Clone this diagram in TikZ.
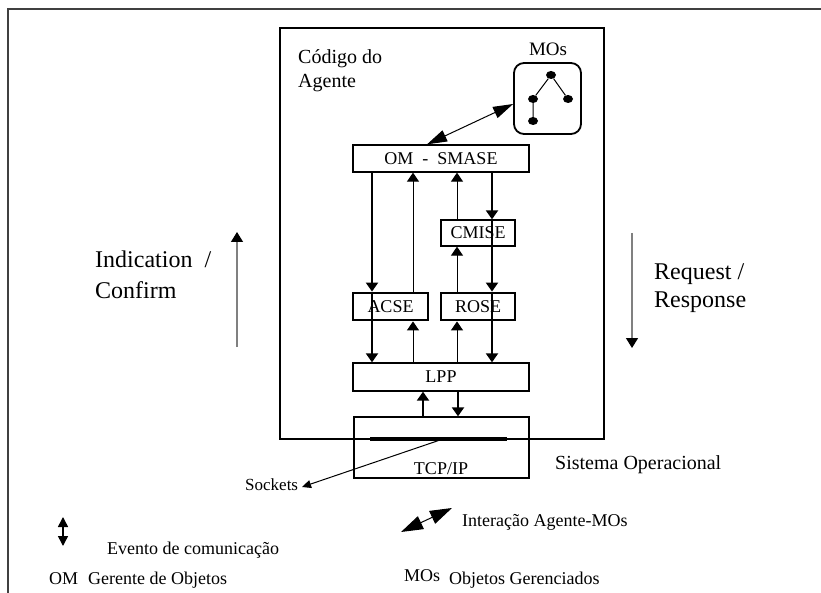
\documentclass[tikz,border=0pt]{standalone}
\usepackage{fontspec}
\setmainfont{Liberation Serif}
\usetikzlibrary{arrows.meta,shapes.geometric}
\newcommand\setfs[1]{\fontsize{#1}{#1}\selectfont}
\begin{document}
\begin{tikzpicture}[x=1pt,y=-1pt,
  box/.style={draw, line width=1.3pt, inner sep=0pt, font=\setfs{18pt}},
  boldbox/.style={box, line width=2.8pt},
  txt/.style={inner sep=0pt, anchor=base west},
  thn/.style={line width=1pt},
  thk/.style={line width=2pt},
  tip/.style={-{Triangle[width=12pt,length=9pt]}},
  dot/.style={ellipse, fill, inner sep=0pt, minimum width=10pt, minimum height=8pt},
  bigtip/.style={{Triangle[width=12pt,length=20pt]}-{Triangle[width=12pt,length=20pt]}},
  hint/.style={draw=black!50, line width=1.3pt, -{Triangle[width=12pt,length=10pt,color=black]}}]
\useasboundingbox (0,0) rectangle (821,593);

% page frame
\draw[black!75, line width=1.5pt] (821,9) -- (8,9) -- (8,593);

% agent code area and its modules
\node[draw, line width=1.5pt, minimum width=324pt, minimum height=411pt] (agent) at (442,233.5) {};
\node[txt, anchor=north west, align=left, font=\fontsize{20pt}{24pt}\selectfont] (agentlbl) at (298,49) {Código do\\Agente};

\node[draw, line width=1.8pt, rounded corners=10pt, minimum width=67pt, minimum height=71pt] (mos) at (547.5,98.5) {};
\node[txt, anchor=base, font=\setfs{19pt}] (moslbl) at (548,56) {MOs};
\node[dot] (t1) at (551,75) {};
\node[dot] (t2) at (533,99) {};
\node[dot] (t3) at (568,99) {};
\node[dot] (t4) at (533,121) {};
\draw[thn] (t1) -- (t2) (t1) -- (t3) (t2) -- (t4);

\node[box, minimum width=176pt, minimum height=27pt] (om) at (441,158.5) {OM\ \ -\ \ SMASE};
\node[box, minimum width=74pt, minimum height=26pt] (cmise) at (478,233) {CMISE};
\node[boldbox, minimum width=75pt, minimum height=27pt] (acse) at (390.5,306.5) {ACSE};
\node[boldbox, minimum width=74pt, minimum height=27pt] (rose) at (478,306.5) {ROSE};
\node[box, minimum width=176pt, minimum height=28pt] (lpp) at (441,377) {LPP};
\node[box, minimum width=175pt, minimum height=61pt] (tcp) at (441.5,447.5) {};
\node[txt, anchor=base, font=\setfs{18pt}] (tcplbl) at (441,474) {TCP/IP};

% lanes of the vertical connectors
\coordinate (lA) at (372,0);
\coordinate (lB) at (413,0);
\coordinate (lC) at (457,0);
\coordinate (lD) at (492,0);
\coordinate (lE) at (423,0);
\coordinate (lF) at (458,0);

% requests going down
\draw[thk,tip] (om.south -| lA) -- (acse.north -| lA);
\draw[thk] (acse.north -| lA) -- (acse.south -| lA);
\draw[thk,tip] (acse.south -| lA) -- (lpp.north -| lA);
\draw[thk,tip] (om.south -| lD) -- (cmise.north -| lD);
\draw[thk] (cmise.north -| lD) -- (cmise.south -| lD);
\draw[thk,tip] (cmise.south -| lD) -- (rose.north -| lD);
\draw[thk] (rose.north -| lD) -- (rose.south -| lD);
\draw[thk,tip] (rose.south -| lD) -- (lpp.north -| lD);

% indications going up
\draw[thn,tip] (lpp.north -| lB) -- (acse.south -| lB);
\draw[thn,tip] (acse.north -| lB) -- (om.south -| lB);
\draw[thn,tip] (lpp.north -| lC) -- (rose.south -| lC);
\draw[thn,tip] (rose.north -| lC) -- (cmise.south -| lC);
\draw[thn,tip] (cmise.north -| lC) -- (om.south -| lC);

% LPP <-> TCP/IP
\draw[thk,tip] (tcp.north -| lE) -- (lpp.south -| lE);
\draw[thk,tip] (lpp.south -| lF) -- (tcp.north -| lF);

% agent <-> managed objects
\coordinate (mA) at (427,104);
\draw[thn,bigtip] (om.north -| mA) -- (mos.west |- mA);

% sockets
\coordinate (sockL) at (370,439);
\coordinate (sockR) at (507,439);
\coordinate (sockP) at (443,439);
\coordinate (sockEnd) at (302,487);
\draw[line width=4pt] (sockL) -- (sockR);
\draw[thn,-{Triangle[width=8pt,length=9pt]}] (sockP) -- (sockEnd);
\node[txt, font=\setfs{17pt}] (socklbl) at (245,490) {Sockets};
\node[txt, font=\setfs{20pt}] (oslbl) at (555,469) {Sistema Operacional};

% direction hints
\coordinate (upA) at (237,347);
\coordinate (upB) at (237,232);
\draw[hint] (upA) -- (upB);
\node[txt, align=left, anchor=north west, font=\fontsize{24pt}{31pt}\selectfont] (indlbl) at (95,251) {Indication\hspace{0.5em}/\\Confirm};
\coordinate (dnA) at (632,233);
\coordinate (dnB) at (632,348);
\draw[hint] (dnA) -- (dnB);
\node[txt, align=left, anchor=north west, font=\fontsize{24pt}{28pt}\selectfont] (reqlbl) at (654,263) {Request /\\Response};

% legend
\coordinate (lg1) at (63,517);
\coordinate (lg2) at (63,546);
\draw[line width=1.5pt,{Triangle[width=10pt,length=10pt]}-{Triangle[width=10pt,length=10pt]}] (lg1) -- (lg2);
\node[txt, font=\setfs{18pt}] (lgev) at (107,554) {Evento de comunicação};
\node[txt, font=\setfs{18pt}] (lgom) at (49,584) {OM};
\node[txt, font=\setfs{18pt}] (lgomt) at (88,584) {Gerente de Objetos};
\coordinate (lg3) at (401,532);
\coordinate (lg4) at (452,508);
\draw[thn,{Triangle[width=14pt,length=22pt]}-{Triangle[width=14pt,length=22pt]}] (lg3) -- (lg4);
\node[txt, font=\setfs{18pt}] (lgia) at (462,526) {Interação Agente-MOs};
\node[txt, font=\setfs{18pt}] (lgmo) at (404,581) {MOs};
\node[txt, font=\setfs{18pt}] (lgmot) at (449,584) {Objetos Gerenciados};
\end{tikzpicture}
\end{document}
